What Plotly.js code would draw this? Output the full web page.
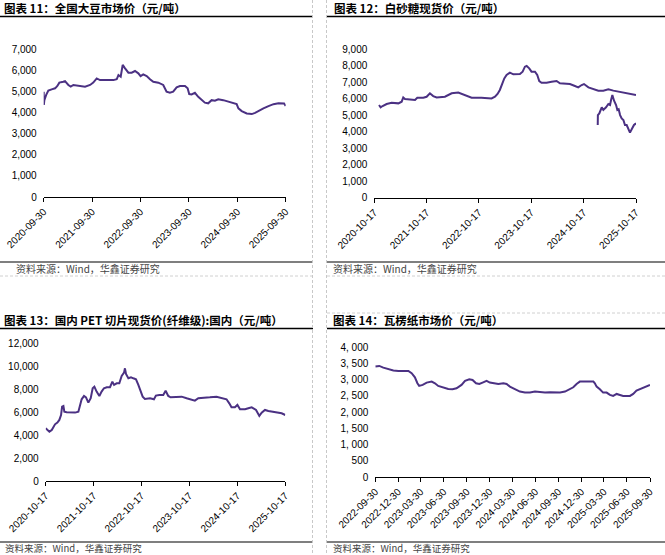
<!DOCTYPE html>
<html><head><meta charset="utf-8">
<script src="https://cdn.plot.ly/plotly-3.0.1.min.js"></script>
<style>html,body{margin:0;padding:0;background:#fff}#c{width:665px;height:555px}</style>
</head><body><div id="c"></div>
<script>
// ---- Chart 11: 全国大豆市场价 ----
const soyDates = ['2020-09-30','2020-10-01','2020-10-05','2020-10-18','2020-11-04','2020-11-29','2020-12-25','2021-01-11','2021-01-26','2021-02-25','2021-03-10','2021-04-04','2021-04-22','2021-05-12','2021-07-01','2021-08-08','2021-09-15','2021-10-09','2021-11-04','2021-11-29','2022-01-18','2022-03-10','2022-04-04','2022-04-17','2022-05-04','2022-05-19','2022-06-06','2022-07-01','2022-07-26','2022-08-20','2022-09-14','2022-10-01','2022-10-21','2022-11-16','2022-12-11','2023-01-05','2023-02-12','2023-03-21','2023-04-15','2023-05-10','2023-06-04','2023-06-30','2023-07-25','2023-09-01','2023-09-21','2023-10-03','2023-10-21','2023-11-15','2023-12-10','2024-01-04','2024-01-29','2024-02-23','2024-03-20','2024-04-14','2024-05-09','2024-06-16','2024-07-23','2024-08-30','2024-09-25','2024-10-08','2024-11-02','2024-12-10','2025-01-17','2025-02-11','2025-03-08','2025-04-15','2025-05-23','2025-06-30','2025-08-06','2025-09-08','2025-09-18','2025-09-30'];
const soyPrice = [4990,4360,4590,4830,5040,5100,5150,5260,5420,5460,5490,5310,5230,5310,5260,5230,5310,5420,5620,5540,5540,5540,5580,5780,5700,6260,6100,5890,5890,5970,5860,5730,5810,5730,5580,5460,5420,5310,4990,4940,4990,5200,5260,5260,5150,4880,4860,4940,4750,4590,4470,4440,4590,4560,4630,4590,4510,4440,4400,4200,4070,3960,3930,3990,4090,4200,4310,4400,4440,4440,4430,4310];

// ---- Chart 12: 白砂糖现货价 ----
const sugarDates = ['2020-11-19','2020-11-30','2020-12-14','2021-01-11','2021-02-15','2021-04-03','2021-04-26','2021-05-07','2021-05-19','2021-06-23','2021-07-28','2021-08-13','2021-09-24','2021-10-17','2021-11-09','2021-12-02','2021-12-26','2022-02-22','2022-04-10','2022-05-26','2022-06-18','2022-07-23','2022-08-27','2022-11-03','2022-12-09','2023-01-13','2023-02-06','2023-02-24','2023-03-12','2023-03-31','2023-04-12','2023-04-28','2023-05-21','2023-06-14','2023-07-07','2023-07-30','2023-08-18','2023-09-03','2023-09-15','2023-10-03','2023-10-19','2023-11-12','2023-11-28','2023-12-12','2023-12-28','2024-02-01','2024-03-07','2024-03-30','2024-04-11','2024-05-04','2024-06-08','2024-07-13','2024-08-17','2024-09-09','2024-10-03','2024-10-19','2024-11-19','2024-12-24','2025-01-27','2025-03-03','2025-04-07','2025-05-12','2025-06-28','2025-08-13','2025-09-17','2025-10-17'];
const sugarPrice = [5610,5470,5550,5670,5750,5710,5810,6070,5970,5950,5910,6050,6050,6110,6320,6150,6070,6110,6320,6360,6280,6150,6050,6050,6050,6010,6110,6280,6520,6920,7220,7430,7570,7470,7490,7490,7630,7930,7970,7830,7630,7630,7430,7060,6960,6960,7020,7020,7060,6920,6880,6880,6760,6680,6820,6880,6680,6560,6480,6480,6560,6480,6400,6320,6280,6220];
const sugar2Dates = ['2025-01-23','2025-01-24','2025-02-03','2025-02-20','2025-03-03','2025-03-22','2025-04-07','2025-04-19','2025-04-26','2025-05-05','2025-05-17','2025-05-31','2025-06-09','2025-06-18','2025-06-28','2025-07-09','2025-07-21','2025-08-01','2025-08-13','2025-08-25','2025-09-05','2025-09-17','2025-10-03','2025-10-17'];
const sugar2Price = [4400,5000,5100,5470,5310,5470,5670,5610,5910,6220,5870,5610,5310,5350,5000,4800,4700,4400,4400,4140,3940,4140,4400,4500];

// ---- Chart 13: 国内PET切片现货价(纤维级) ----
const petDates = ['2020-10-17','2020-10-30','2020-11-14','2020-12-02','2020-12-14','2020-12-27','2021-01-14','2021-01-29','2021-02-11','2021-02-19','2021-03-01','2021-03-08','2021-03-26','2021-04-20','2021-05-29','2021-06-23','2021-07-06','2021-07-18','2021-08-05','2021-08-20','2021-09-07','2021-09-25','2021-10-10','2021-10-23','2021-11-09','2021-11-30','2021-12-17','2022-01-04','2022-01-25','2022-02-19','2022-03-09','2022-03-22','2022-04-11','2022-05-01','2022-05-19','2022-06-06','2022-06-13','2022-06-21','2022-07-09','2022-07-29','2022-08-16','2022-09-05','2022-09-23','2022-10-11','2022-10-26','2022-11-12','2022-12-21','2023-01-20','2023-02-04','2023-03-02','2023-04-01','2023-04-19','2023-05-09','2023-05-27','2023-07-12','2023-08-19','2023-09-26','2023-11-03','2023-11-28','2023-12-24','2024-01-31','2024-03-21','2024-05-11','2024-06-18','2024-07-26','2024-08-16','2024-09-02','2024-09-28','2024-10-17','2024-11-06','2024-12-14','2025-01-08','2025-02-03','2025-03-08','2025-04-02','2025-04-20','2025-05-15','2025-06-10','2025-07-05','2025-08-12','2025-09-19','2025-10-17'];
const petPrice = [4590,4450,4300,4450,4680,4940,5090,5320,5750,6480,6540,6040,5990,5960,5960,6040,6540,7120,7410,7290,6830,7210,8080,8220,7790,7410,7790,8080,8170,8170,8660,8370,8510,8510,9150,9440,9820,9330,8950,9040,8950,8860,8370,7790,7350,7150,7210,7120,7440,7500,7500,7870,7410,7290,7290,7350,7210,7120,7000,7210,7270,7290,7350,7210,7120,6770,6420,6420,6630,6250,6250,6340,6420,6190,5670,5960,6190,6100,6040,5960,5900,5750];

// ---- Chart 14: 瓦楞纸市场价 ----
const paperDates = ['2022-09-30','2022-10-16','2022-11-01','2022-11-21','2022-12-11','2022-12-31','2023-01-20','2023-02-09','2023-02-22','2023-03-07','2023-03-17','2023-03-24','2023-04-07','2023-04-23','2023-05-13','2023-05-26','2023-06-08','2023-06-28','2023-07-18','2023-08-04','2023-08-20','2023-09-09','2023-09-23','2023-10-10','2023-10-23','2023-11-06','2023-11-19','2023-12-02','2023-12-18','2023-12-31','2024-01-14','2024-02-03','2024-02-23','2024-03-07','2024-03-20','2024-04-09','2024-04-29','2024-05-19','2024-06-08','2024-06-28','2024-07-18','2024-08-07','2024-08-27','2024-09-16','2024-10-06','2024-10-26','2024-11-12','2024-11-28','2024-12-11','2024-12-24','2025-01-07','2025-01-27','2025-02-16','2025-02-22','2025-03-01','2025-03-14','2025-03-27','2025-04-10','2025-04-23','2025-05-06','2025-05-20','2025-06-02','2025-06-15','2025-07-12','2025-07-25','2025-08-07','2025-08-27','2025-09-16','2025-09-30'];
const paperPrice = [3405,3426,3374,3323,3282,3272,3282,3272,3200,3076,2891,2809,2840,2912,2942,2891,2809,2757,2716,2706,2737,2840,2963,3014,2994,2891,2870,2912,2963,2912,2891,2870,2891,2870,2788,2716,2634,2603,2603,2634,2613,2603,2613,2613,2603,2634,2706,2767,2870,2942,2942,2942,2942,2891,2788,2706,2603,2603,2531,2500,2562,2531,2500,2500,2562,2665,2737,2788,2840];

// ---- Tick labels ----
const ticks11 = ['2020-09-30','2021-09-30','2022-09-30','2023-09-30','2024-09-30','2025-09-30'];
const ticks12 = ['2020-10-17','2021-10-17','2022-10-17','2023-10-17','2024-10-17','2025-10-17'];
const ticks13 = ticks12;
const ticks14 = ['2022-09-30','2022-12-30','2023-03-30','2023-06-30','2023-09-30','2023-12-30','2024-03-30','2024-06-30','2024-09-30','2024-12-30','2025-03-30','2025-06-30','2025-09-30'];
const yVals14 = [0,500,1000,1500,2000,2500,3000,3500,4000];
const yText14 = ['0','500','1, 000','1, 500','2, 000','2, 500','3, 000','3, 500','4, 000'];

const titles = ['图表 11：全国大豆市场价（元/吨）','图表 12：白砂糖现货价（元/吨）','图表 13：国内 PET 切片现货价(纤维级):国内（元/吨）','图表 14：瓦楞纸市场价（元/吨）'];
const sourceText = '资料来源：Wind，华鑫证券研究';

// ---- layout helpers (pixel -> paper) ----
const W = 665, H = 555;
const fx = p => p / W, fy = p => 1 - p / H;
const lineColor = '#4b3183';
const tickFont = {family: 'Liberation Sans, Arial, sans-serif', size: 10, color: '#000'};

function xax(dom, anchor, tv, r) {
  return {domain: [fx(dom[0]), fx(dom[1])], anchor: anchor, type: 'date', range: r,
    tickmode: 'array', tickvals: tv, ticktext: tv, tickangle: -45,
    ticks: 'outside', ticklen: 4, tickcolor: '#000', tickwidth: 1,
    showline: true, linecolor: '#000', linewidth: 1, showgrid: false, zeroline: false,
    tickfont: tickFont, fixedrange: true};
}
function yax(dom, anchor, r, dtick) {
  return {domain: [fy(dom[1]), fy(dom[0])], anchor: anchor, range: r, dtick: dtick,
    tickformat: ',d', showline: false, showgrid: false, zeroline: false, ticks: '',
    ticklabelstandoff: 6, tickfont: tickFont, fixedrange: true};
}

const traces = [
  {x: soyDates, y: soyPrice, xaxis: 'x', yaxis: 'y', type: 'scatter', mode: 'lines', line: {color: lineColor, width: 2}},
  {x: sugarDates, y: sugarPrice, xaxis: 'x2', yaxis: 'y2', type: 'scatter', mode: 'lines', line: {color: lineColor, width: 2}},
  {x: sugar2Dates, y: sugar2Price, xaxis: 'x2', yaxis: 'y2', type: 'scatter', mode: 'lines', line: {color: lineColor, width: 2}},
  {x: petDates, y: petPrice, xaxis: 'x3', yaxis: 'y3', type: 'scatter', mode: 'lines', line: {color: lineColor, width: 2}},
  {x: paperDates, y: paperPrice, xaxis: 'x4', yaxis: 'y4', type: 'scatter', mode: 'lines', line: {color: lineColor, width: 2}}
];

const y4 = yax([347.3, 477], 'x4', [0, 4000], 500);
y4.tickmode = 'array'; y4.tickvals = yVals14; y4.ticktext = yText14;

const shapes = [];
function hline(x0, x1, y, color, w, dash) {
  shapes.push({type: 'line', xref: 'paper', yref: 'paper', x0: fx(x0), x1: fx(x1), y0: fy(y), y1: fy(y), line: {color: color, width: w, dash: dash || 'solid'}});
}
function vline(x, y0, y1) {
  shapes.push({type: 'line', xref: 'paper', yref: 'paper', x0: fx(x), x1: fx(x), y0: fy(y0), y1: fy(y1), line: {color: '#c8c8c8', width: 1, dash: '3px,2px'}});
}
hline(0, 313, 16.5, '#000', 1.5); hline(327, 665, 16.5, '#000', 1.5);
hline(0, 313, 262, '#000', 1.2); hline(327, 665, 262, '#000', 1.2);
hline(0, 313, 276, '#d0d0d0', 1, '3px,2px'); hline(327, 665, 276, '#d0d0d0', 1, '3px,2px');
hline(327, 665, 313, '#d0d0d0', 1, '3px,2px');
hline(0, 313, 328.5, '#000', 1.5); hline(327, 665, 328.5, '#000', 1.5);
hline(0, 313, 542, '#000', 1.2); hline(327, 665, 542, '#000', 1.2);
vline(312.5, 0, 555); vline(326.5, 0, 555);

const annFont = {family: 'Noto Sans CJK SC, sans-serif', size: 11.5, color: '#000', weight: 'bold'};
const srcFont = {family: 'Noto Sans CJK SC, sans-serif', size: 10, color: '#444'};
const srcFontB = {family: 'Noto Sans CJK SC, sans-serif', size: 9.5, color: '#444'};
function ann(text, x, y, font) {
  return {text: text, xref: 'paper', yref: 'paper', x: fx(x), y: fy(y), xanchor: 'left', yanchor: 'middle', showarrow: false, font: font, borderpad: 0};
}
const annotations = [
  ann(titles[0], 3, 8, annFont), ann(titles[1], 333, 8, annFont),
  ann(titles[2], 3, 320, annFont), ann(titles[3], 332, 320, annFont),
  ann(sourceText, 15, 268.5, srcFont), ann(sourceText, 332, 268.5, srcFont),
  ann(sourceText, 4, 547.5, srcFontB), ann(sourceText, 332, 547.5, srcFontB)
];

const layout = {
  width: W, height: H, margin: {l: 0, r: 0, t: 0, b: 0}, showlegend: false,
  paper_bgcolor: '#fff', plot_bgcolor: 'rgba(0,0,0,0)',
  xaxis: xax([43.7, 285.7], 'y', ticks11, ['2020-09-30', '2025-09-30']),
  yaxis: yax([49.3, 197], 'x', [0, 7000], 1000),
  xaxis2: xax([374.3, 636], 'y2', ticks12, ['2020-10-17', '2025-10-17']),
  yaxis2: yax([49, 197.7], 'x2', [0, 9000], 1000),
  xaxis3: xax([45.7, 285.3], 'y3', ticks13, ['2020-10-17', '2025-10-17']),
  yaxis3: yax([343.3, 481], 'x3', [0, 12000], 2000),
  xaxis4: xax([375.3, 650], 'y4', ticks14, ['2022-09-30', '2025-09-30']),
  yaxis4: y4,
  shapes: shapes, annotations: annotations
};
Plotly.newPlot('c', traces, layout, {staticPlot: true, displayModeBar: false});
</script></body></html>
